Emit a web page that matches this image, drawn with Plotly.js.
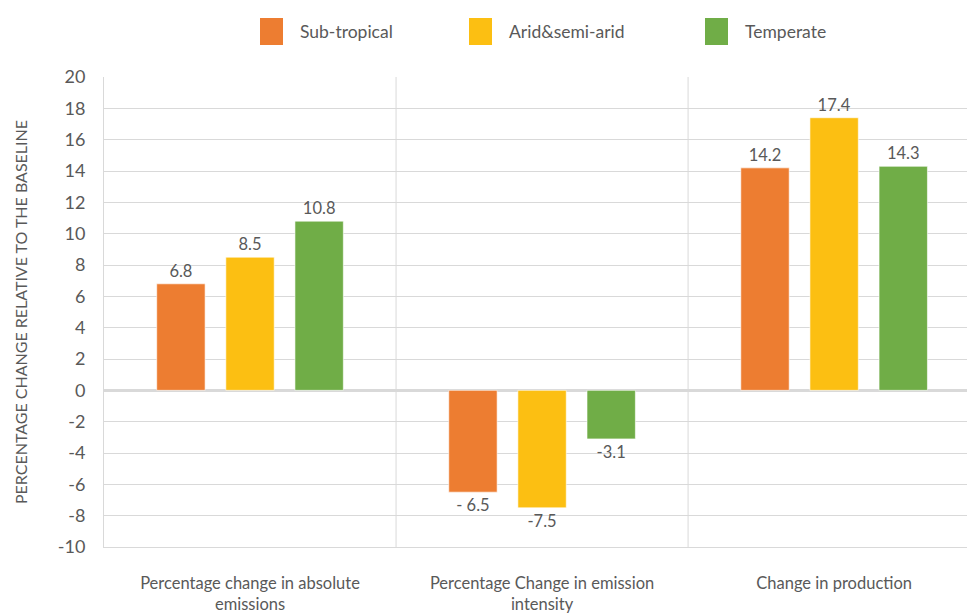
<!DOCTYPE html>
<html>
<head>
<meta charset="utf-8">
<script src="https://cdn.plot.ly/plotly-3.0.1.min.js"></script>
<style>html,body{margin:0;padding:0;background:#fff;}#chart{width:967px;height:615px;}</style>
</head>
<body>
<div id="chart"></div>
<script>
// ---- data ----
var categories = [
  "Percentage change in absolute<br>emissions",
  "Percentage Change in emission<br>intensity",
  "Change in production"
];
var seriesNames = ["Sub-tropical", "Arid&semi-arid", "Temperate"];
var subTropical = [6.8, -6.5, 14.2];
var aridSemiArid = [8.5, -7.5, 17.4];
var temperate = [10.8, -3.1, 14.3];
var labelsSubTropical = ["6.8", "- 6.5", "14.2"];
var labelsArid = ["8.5", "-7.5", "17.4"];
var labelsTemperate = ["10.8", "-3.1", "14.3"];
var yTicks = [-10, -8, -6, -4, -2, 0, 2, 4, 6, 8, 10, 12, 14, 16, 18, 20];
var yTickText = ["-10", "-8", "-6", "-4", "-2", "0", "2", "4", "6", "8", "10", "12", "14", "16", "18", "20"];

var colors = ["#ED7D31", "#FCBF12", "#70AD47"];
var FONT = "Lato, 'Open Sans', sans-serif";
var TXT = "#595959";

var xIdx = categories.map(function (c, i) { return i; });
var seriesValues = [subTropical, aridSemiArid, temperate];
var seriesLabels = [labelsSubTropical, labelsArid, labelsTemperate];

var traces = seriesValues.map(function (vals, k) {
  return {
    type: "bar",
    name: seriesNames[k],
    x: xIdx,
    y: vals,
    text: seriesLabels[k],
    textposition: "outside",
    texttemplate: "%{text}",
    textfont: { family: FONT, size: 16.5, color: TXT },
    cliponaxis: false,
    marker: { color: colors[k], line: { color: "rgba(255,255,255,0.6)", width: 1 } },
    showlegend: false,
    hoverinfo: "none"
  };
});

// custom legend (large swatches like the reference)
var legendX = [260, 469, 705];
var shapes = [];
var annotations = [];
seriesNames.forEach(function (n, k) {
  shapes.push({
    type: "rect", xref: "paper", yref: "paper",
    x0: (legendX[k] - 104) / 863, x1: (legendX[k] + 23 - 104) / 863,
    y0: (547 - 45) / 470, y1: (547 - 18) / 470,
    fillcolor: colors[k], line: { width: 0 }
  });
  annotations.push({
    xref: "paper", yref: "paper",
    x: (legendX[k] + 38 - 104) / 863, y: (547 - 31.5) / 470,
    xanchor: "left", yanchor: "middle", showarrow: false,
    text: n, font: { family: FONT, size: 17.5, color: TXT }
  });
});
// category separators
[0.5, 1.5].forEach(function (b) {
  shapes.push({
    type: "line", xref: "x", yref: "paper", x0: b, x1: b, y0: 0, y1: 1,
    line: { color: "#D9D9D9", width: 1 }, layer: "below"
  });
});

var layout = {
  width: 967, height: 615,
  margin: { l: 104, r: 0, t: 77, b: 68 },
  paper_bgcolor: "#ffffff", plot_bgcolor: "#ffffff",
  barmode: "group",
  bargap: 0.29,
  bargroupgap: 0.3,
  font: { family: FONT, color: TXT },
  xaxis: {
    range: [-0.5, 2.455],
    tickvals: xIdx,
    ticktext: categories,
    ticks: "outside", ticklen: 21, tickcolor: "rgba(0,0,0,0)",
    tickfont: { family: FONT, size: 16.5, color: TXT },
    showgrid: false, zeroline: false,
    showline: true, linecolor: "#D9D9D9", linewidth: 1,
    fixedrange: true
  },
  yaxis: {
    range: [-10, 20],
    tickvals: yTicks,
    ticktext: yTickText,
    ticks: "outside", ticklen: 14, tickcolor: "rgba(0,0,0,0)",
    tickfont: { family: FONT, size: 18, color: TXT },
    showgrid: true, gridcolor: "#D9D9D9", gridwidth: 1,
    zeroline: true, zerolinecolor: "#D9D9D9", zerolinewidth: 3,
    showline: true, linecolor: "#D9D9D9", linewidth: 1,
    title: { text: "PERCENTAGE CHANGE RELATIVE TO THE BASELINE", font: { family: FONT, size: 16, color: TXT }, standoff: 26 },
    fixedrange: true
  },
  shapes: shapes,
  annotations: annotations,
  showlegend: false
};

Plotly.newPlot("chart", traces, layout, { displayModeBar: false, staticPlot: true });
</script>
</body>
</html>
